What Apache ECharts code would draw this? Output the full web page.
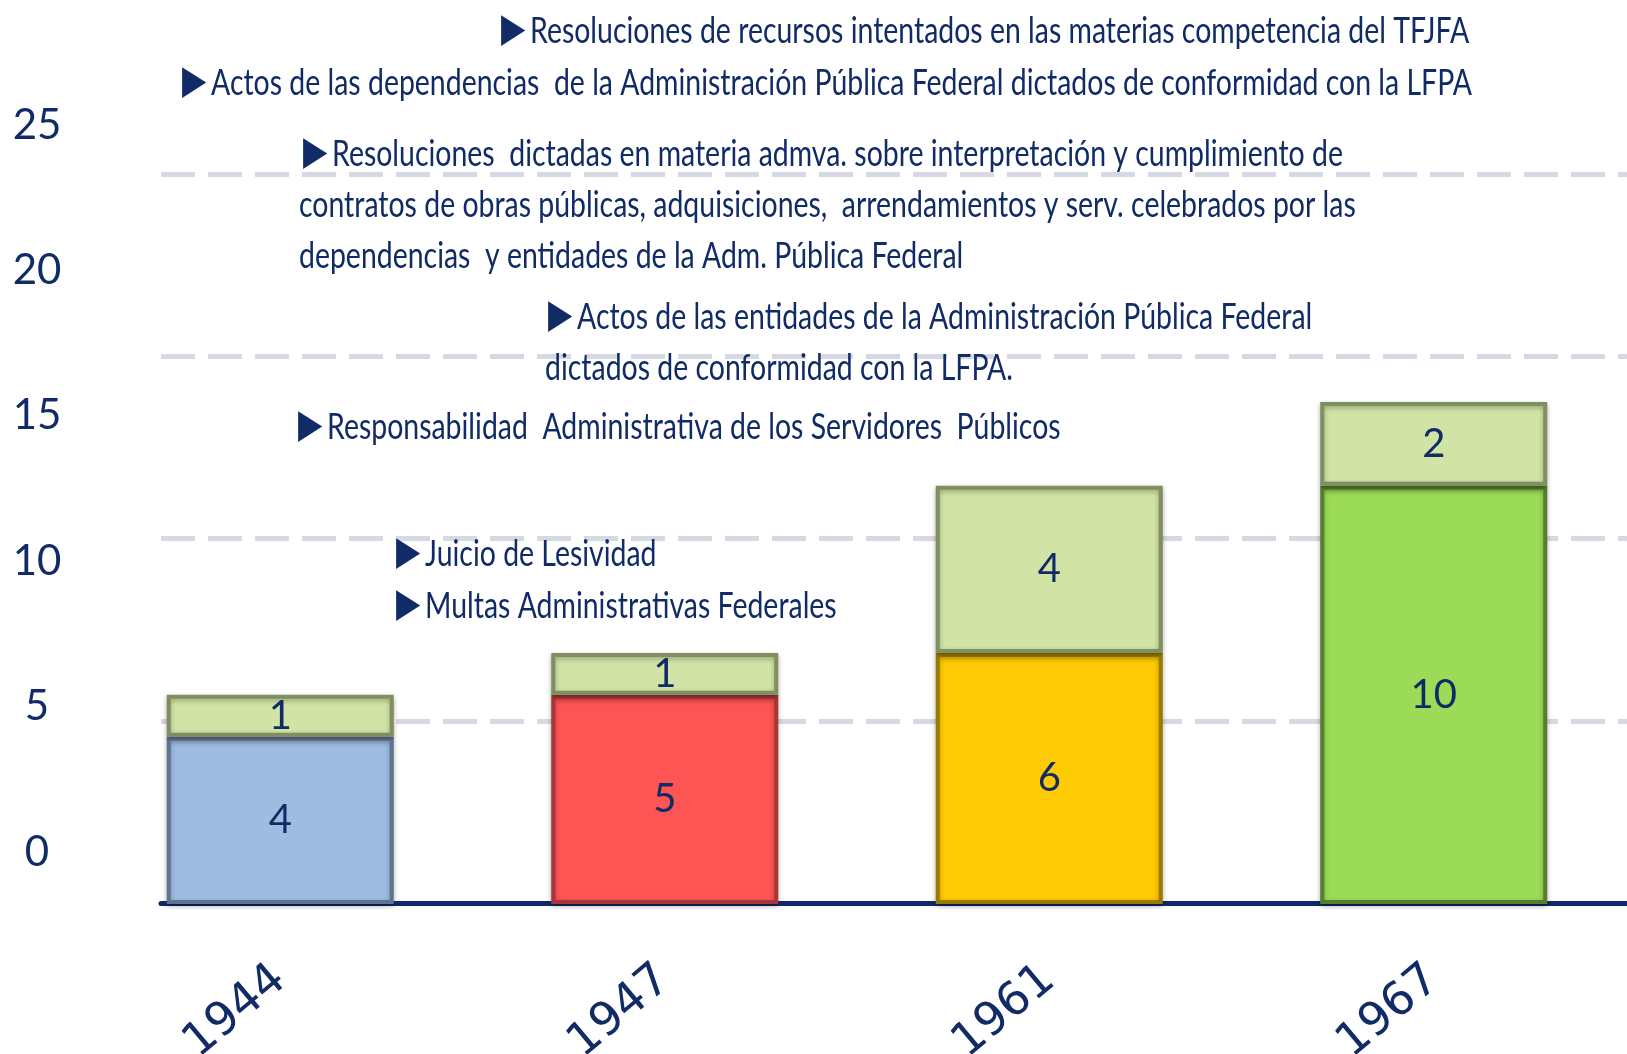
<!DOCTYPE html>
<html>
<head>
<meta charset="utf-8">
<script src="https://cdn.jsdelivr.net/npm/echarts@6/dist/echarts.min.js"></script>
<style>
  html, body { margin: 0; padding: 0; background: #fff; }
  #main { width: 1627px; height: 1054px; }
</style>
</head>
<body>
<div id="main"></div>
<script>
// años de cada reforma
var years = ['1944', '1947', '1961', '1967'];
// materias que ya existían (parte baja)
var baseValues = [4, 5, 6, 10];
// materias agregadas (parte alta)
var addedValues = [1, 1, 4, 2];
// etiquetas del eje izquierdo
var yTicks = [0, 5, 10, 15, 20, 25];
// materias del recuadro de texto
var notes = [
  'Resoluciones de recursos intentados en las materias competencia del TFJFA',
  'Actos de las dependencias  de la Administración Pública Federal dictados de conformidad con la LFPA',
  'Resoluciones  dictadas en materia admva. sobre interpretación y cumplimiento de',
  'contratos de obras públicas, adquisiciones,  arrendamientos y serv. celebrados por las',
  'dependencias  y entidades de la Adm. Pública Federal',
  'Actos de las entidades de la Administración Pública Federal',
  'dictados de conformidad con la LFPA.',
  'Responsabilidad  Administrativa de los Servidores  Públicos',
  'Juicio de Lesividad',
  'Multas Administrativas Federales'
];
// líneas que empiezan con viñeta
var bullet = [true, true, true, false, false, true, false, true, true, true];

var navy = '#112b66';
var baseColors = ['#9ebce2', '#ff5454', '#ffcb05', '#9cdb56'];
var baseBorders = ['#5f7490', '#a83636', '#9a7b00', '#557f2c'];
var addedColor = '#d2e3a6';
var addedBorder = '#7f8f60';

// posición de cada línea de texto (x izquierda, y centro)
var notePos = [
  [501, 31], [182, 83], [303, 154], [299, 205], [299, 256],
  [548, 317], [545, 368], [298, 427], [396, 554], [396, 606]
];

var noteFont = 'Lato, "DejaVu Sans", sans-serif';
var noteSize = 36;
var ctx = document.createElement('canvas').getContext('2d');
ctx.font = noteSize + 'px ' + noteFont;
// ancho del texto de la segunda línea en el original: 210 -> 1471
var noteScale = (1471 - 210) / ctx.measureText(notes[1]).width;

var graphics = notes.map(function (t, i) {
  return {
    type: 'text',
    x: notePos[i][0],
    y: notePos[i][1],
    scaleX: noteScale,
    z: 10,
    style: {
      text: bullet[i] ? '{t|\u25B6}' + t : t,
      fill: navy,
      fontSize: noteSize,
      fontFamily: noteFont,
      textVerticalAlign: 'middle',
      verticalAlign: 'middle',
      rich: {
        t: { fontSize: 40, fontFamily: '"DejaVu Sans"', fill: navy, padding: [0, 6, 0, 0] }
      }
    }
  };
});

var chart = echarts.init(document.getElementById('main'));

var barStyle = {
  borderWidth: 4,
  shadowColor: 'rgba(0,0,0,0.3)',
  shadowBlur: 5,
  shadowOffsetY: 2
};

var option = {
  animation: false,
  backgroundColor: '#fff',
  grid: [
    // barras
    { left: 88, right: 1, top: 151, bottom: 150, outerBoundsMode: 'none', containLabel: false },
    // líneas punteadas y eje base
    { left: 161, right: 0, top: 174, bottom: 151, outerBoundsMode: 'none', containLabel: false },
    // números del eje izquierdo
    { left: 73, width: 10, top: 125, bottom: 202, outerBoundsMode: 'none', containLabel: false }
  ],
  xAxis: [
    {
      type: 'category',
      gridIndex: 0,
      data: years,
      axisLine: { show: false },
      axisTick: { show: false },
      axisLabel: {
        rotate: 40,
        margin: 70,
        fontSize: 46,
        fontFamily: '"DejaVu Sans", sans-serif',
        color: navy
      }
    },
    {
      type: 'value',
      gridIndex: 1,
      min: 0,
      max: 1,
      axisLine: { show: true, lineStyle: { color: '#0e2a6b', width: 5 } },
      axisTick: { show: false },
      axisLabel: { show: false },
      splitLine: { show: false }
    },
    { type: 'value', gridIndex: 2, show: false }
  ],
  yAxis: [
    { type: 'value', gridIndex: 0, min: 0, max: 18, show: false },
    {
      type: 'value',
      gridIndex: 1,
      min: 0,
      max: 4,
      interval: 1,
      axisLine: { show: false },
      axisTick: { show: false },
      axisLabel: { show: false },
      splitLine: {
        show: true,
        showMinLine: false,
        lineStyle: { color: '#d6d9e3', width: 5, type: [34, 13] }
      }
    },
    {
      type: 'value',
      gridIndex: 2,
      min: yTicks[0],
      max: yTicks[yTicks.length - 1],
      interval: yTicks[1] - yTicks[0],
      axisLine: { show: false },
      axisTick: { show: false },
      splitLine: { show: false },
      axisLabel: {
        margin: 36,
        align: 'center',
        fontSize: 42,
        fontFamily: 'Lato, sans-serif',
        color: navy
      }
    }
  ],
  series: [
    {
      type: 'bar',
      name: 'base',
      stack: 'total',
      xAxisIndex: 0,
      yAxisIndex: 0,
      barWidth: 227,
      data: baseValues.map(function (v, i) {
        return { value: v, itemStyle: { color: baseColors[i], borderColor: baseBorders[i] } };
      }),
      itemStyle: barStyle,
      label: {
        show: true,
        position: 'inside',
        fontSize: 40,
        fontFamily: '"Liberation Sans Narrow", Lato, sans-serif',
        color: navy
      }
    },
    {
      type: 'bar',
      name: 'added',
      stack: 'total',
      xAxisIndex: 0,
      yAxisIndex: 0,
      barWidth: 227,
      data: addedValues,
      itemStyle: Object.assign({ color: addedColor, borderColor: addedBorder }, barStyle),
      label: {
        show: true,
        position: 'inside',
        fontSize: 40,
        fontFamily: '"Liberation Sans Narrow", Lato, sans-serif',
        color: navy
      }
    }
  ],
  graphic: graphics
};

chart.setOption(option);
</script>
</body>
</html>
